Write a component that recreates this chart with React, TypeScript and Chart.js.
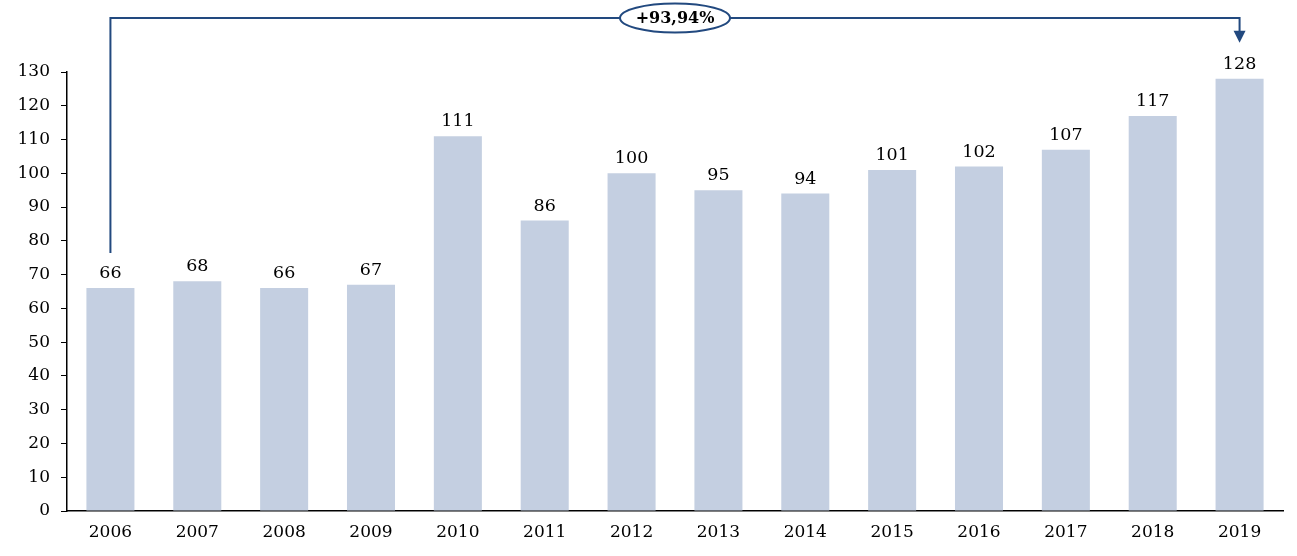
import React, { useEffect, useRef } from "react";
import { Chart, registerables } from "chart.js";

Chart.register(...registerables);

const categories = ["2006", "2007", "2008", "2009", "2010", "2011", "2012", "2013", "2014", "2015", "2016", "2017", "2018", "2019"];
const values = [66, 68, 66, 67, 111, 86, 100, 95, 94, 101, 102, 107, 117, 128];
const changeLabel = "+93,94%";

const FONT = "'DejaVu Serif', 'Liberation Serif', serif";
const BLUE = "#22497F";
const BAR = "#C4CFE1";

export default function App() {
  const ref = useRef<HTMLCanvasElement | null>(null);

  useEffect(() => {
    if (!ref.current) return;
    const labelPlugin = {
      id: "labels",
      afterDatasetsDraw(chart: any) {
        const ctx = chart.ctx;
        const meta = chart.getDatasetMeta(0);
        ctx.save();
        ctx.font = `17.5px ${FONT}`;
        ctx.fillStyle = "#000";
        ctx.textAlign = "center";
        ctx.textBaseline = "alphabetic";
        meta.data.forEach((bar: any, i: number) => {
          ctx.fillText(String(values[i]), bar.x, bar.y - 10);
        });
        ctx.restore();
      },
    };
    const annotPlugin = {
      id: "annot",
      afterDraw(chart: any) {
        const ctx = chart.ctx;
        const xs = chart.scales.x;
        const ys = chart.scales.y;
        const x0 = xs.getPixelForValue(0);
        const x1 = xs.getPixelForValue(values.length - 1);
        const yStart = ys.getPixelForValue(values[0]) - 35;
        const yTop = 18;
        const yTip = ys.getPixelForValue(values[values.length - 1]) - 36;
        ctx.save();
        ctx.strokeStyle = BLUE;
        ctx.fillStyle = BLUE;
        ctx.lineWidth = 2;
        ctx.beginPath();
        ctx.moveTo(x0, yStart);
        ctx.lineTo(x0, yTop);
        ctx.lineTo(x1, yTop);
        ctx.lineTo(x1, yTip - 10);
        ctx.stroke();
        ctx.beginPath();
        ctx.moveTo(x1 - 6, yTip - 12);
        ctx.lineTo(x1 + 6, yTip - 12);
        ctx.lineTo(x1, yTip);
        ctx.closePath();
        ctx.fill();
        const cx = (x0 + x1) / 2;
        ctx.beginPath();
        ctx.ellipse(cx, yTop, 55, 14.5, 0, 0, Math.PI * 2);
        ctx.fillStyle = "#fff";
        ctx.fill();
        ctx.stroke();
        ctx.fillStyle = "#000";
        ctx.font = `bold 16px ${FONT}`;
        ctx.textAlign = "center";
        ctx.textBaseline = "middle";
        ctx.fillText(changeLabel, cx, yTop + 1);
        ctx.restore();
      },
    };
    const chart = new Chart(ref.current, {
      type: "bar",
      data: {
        labels: categories,
        datasets: [
          {
            data: values,
            backgroundColor: BAR,
            barPercentage: 0.553,
            categoryPercentage: 1,
          },
        ],
      },
      options: {
        animation: false,
        responsive: false,
        maintainAspectRatio: false,
        layout: { padding: { top: 72, right: 14, left: 0, bottom: 0 } },
        plugins: { legend: { display: false }, tooltip: { enabled: false } },
        scales: {
          x: {
            grid: { display: false },
            border: { display: true, color: "#000", width: 1.5 },
            ticks: { color: "#000", font: { family: FONT, size: 17 }, padding: 3, maxRotation: 0 },
            afterFit(scale: any) {
              scale.height = 45;
            },
          },
          y: {
            min: 0,
            max: 130,
            ticks: { stepSize: 10, color: "#000", font: { family: FONT, size: 17 }, padding: 11 },
            grid: { drawOnChartArea: false, drawTicks: true, tickLength: 6, color: "#000" },
            border: { display: true, color: "#000", width: 1.5 },
            afterFit(scale: any) {
              scale.width = 67;
            },
          },
        },
      },
      plugins: [labelPlugin, annotPlugin],
    });
    return () => chart.destroy();
  }, []);

  return (
    <div style={{ position: "fixed", left: 0, top: 0, width: 1297, height: 556, background: "#fff" }}>
      <canvas ref={ref} width={1297} height={556} style={{ width: 1297, height: 556 }} />
    </div>
  );
}
